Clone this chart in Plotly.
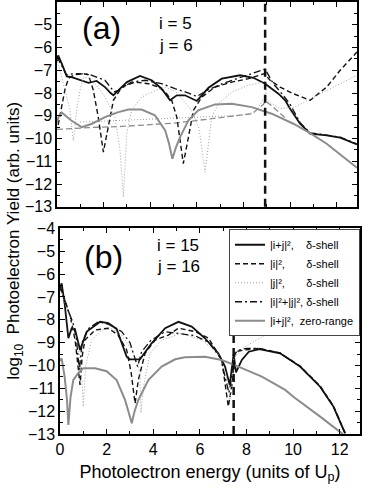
import plotly.graph_objects as go
from plotly.subplots import make_subplots

# panel (a): i = 5, j = 6
a_solid_x = [0.0, 0.05, 0.2, 0.42, 0.63, 1.0, 1.35, 1.7, 2.06, 2.3, 2.42, 2.63, 3.0, 3.56, 4.06, 4.49, 4.85, 5.14, 5.49, 6.0, 6.5, 7.07, 7.85, 8.43, 8.93, 9.5, 9.79, 10.0, 10.43, 10.86, 11.57, 12.15, 12.87]
a_solid_y = [-6.6, -6.35, -6.7, -7.27, -7.3, -7.44, -7.55, -7.47, -7.74, -8.0, -8.1, -7.88, -7.52, -7.25, -7.44, -7.81, -8.32, -8.1, -8.1, -8.35, -7.77, -7.37, -7.22, -7.33, -7.59, -8.03, -8.32, -8.69, -9.35, -9.79, -9.86, -9.96, -10.26]

a_dash_x = [0.05, 0.2, 0.35, 0.5, 0.75, 1.13, 1.35, 1.56, 1.77, 1.99, 2.2, 2.42, 2.78, 3.35, 3.92, 4.35, 4.64, 4.92, 5.14, 5.42, 5.64, 5.85, 6.21, 6.78, 7.5, 8.21, 8.9, 9.14, 9.57, 10.14, 10.86, 11.57, 12.15, 12.72, 12.87]
a_dash_y = [-9.4, -8.6, -7.8, -7.35, -7.2, -7.15, -7.2, -7.88, -9.06, -10.6, -9.5, -8.32, -7.74, -7.52, -7.59, -7.74, -7.95, -8.32, -9.06, -11.1, -9.94, -8.76, -8.18, -7.74, -7.52, -7.37, -7.15, -7.44, -7.74, -8.03, -8.32, -7.74, -7.0, -6.34, -6.2]

a_dot_x = [0.0, 0.34, 0.56, 0.7, 0.85, 1.0, 1.15, 1.4, 1.8, 2.06, 2.49, 2.7, 2.85, 2.99, 3.2, 3.63, 4.2, 4.64, 5.1, 5.78, 6.1, 6.35, 6.64, 6.92, 7.5, 8.21, 8.78, 8.93, 9.0, 9.57, 10.2, 11.0, 11.86, 12.87]
a_dot_y = [-6.5, -7.9, -8.76, -10.1, -8.7, -7.8, -7.3, -7.35, -7.8, -8.18, -9.06, -10.5, -12.57, -9.8, -8.76, -8.18, -7.9, -7.74, -7.95, -8.76, -9.6, -11.48, -9.06, -8.47, -7.96, -7.66, -7.52, -7.5, -8.32, -8.69, -8.62, -8.18, -7.74, -7.22]

a_dashdot_x = [0.0, 0.2, 0.4, 0.77, 1.35, 2.06, 2.45, 2.63, 3.2, 3.78, 4.49, 5.06, 5.5, 6.0, 6.5, 7.2, 8.21, 8.93, 9.28, 9.71, 10.0, 10.43, 10.86, 11.57, 12.15, 12.87]
a_dashdot_y = [-6.4, -6.8, -7.2, -7.15, -7.17, -7.44, -7.95, -7.88, -7.52, -7.44, -7.59, -7.81, -7.95, -8.15, -7.85, -7.55, -7.22, -6.95, -7.59, -8.1, -8.5, -9.3, -9.75, -9.84, -9.94, -10.24]

a_zr_x = [0.0, 0.06, 0.2, 0.6, 1.06, 1.5, 2.06, 2.6, 3.06, 3.63, 4.2, 4.64, 4.8, 4.95, 5.1, 5.28, 5.64, 6.06, 6.78, 7.5, 8.36, 9.21, 10.14, 10.86, 11.57, 12.87]
a_zr_y = [-9.3, -9.06, -8.86, -9.2, -9.5, -9.35, -9.06, -8.85, -8.73, -8.73, -8.98, -9.64, -10.2, -10.89, -10.4, -9.94, -9.2, -8.76, -8.5, -8.47, -8.62, -8.91, -9.35, -9.76, -10.23, -11.28]

# extra zero-range curves of panel (a), not in the legend
a_zr_dash_x = [0.0, 1.35, 2.78, 5.06, 6.06, 7.5, 8.36, 8.86, 8.93, 9.2, 9.43, 9.8]
a_zr_dash_y = [-9.6, -9.52, -9.47, -9.32, -9.2, -9.03, -8.91, -8.5, -8.35, -8.55, -8.75, -9.1]
a_zr_dot_x = [0.99, 2.5, 4.71, 5.75, 7.9, 8.5, 8.83]
a_zr_dot_y = [-9.28, -9.22, -9.13, -9.06, -8.98, -8.85, -8.32]

# panel (b): i = 15, j = 16
b_solid_x = [0.0, 0.07, 0.2, 0.36, 0.5, 0.64, 0.86, 1.15, 1.72, 2.07, 2.43, 2.86, 3.0, 3.43, 3.93, 4.51, 5.08, 5.65, 6.22, 6.79, 7.08, 7.28, 7.45, 7.55, 7.8, 8.1, 8.55, 9.44, 10.3, 11.16, 11.73, 12.23]
b_solid_y = [-6.6, -6.41, -7.3, -8.81, -8.37, -8.4, -9.32, -8.52, -8.09, -8.15, -8.4, -9.62, -9.73, -9.73, -9.03, -8.37, -8.09, -8.3, -8.81, -9.47, -10.05, -10.85, -9.5, -10.3, -9.76, -9.4, -9.29, -9.47, -10.05, -10.93, -11.8, -12.97]

b_dash_x = [0.0, 0.2, 0.45, 0.65, 0.86, 0.95, 1.07, 1.5, 2.07, 2.49, 2.86, 3.05, 3.22, 3.36, 3.65, 4.08, 4.65, 5.08, 5.79, 6.37, 6.94, 7.15, 7.22, 7.37, 7.45, 7.51, 7.94, 8.51, 9.44, 10.3, 11.16, 11.73, 12.23]
b_dash_y = [-6.6, -7.1, -7.9, -8.9, -10.85, -9.6, -8.89, -8.45, -8.37, -8.67, -9.32, -10.3, -11.66, -10.64, -9.47, -8.89, -8.67, -8.37, -8.52, -8.8, -9.76, -11.22, -11.8, -10.9, -9.8, -9.4, -9.32, -9.25, -9.45, -10.03, -10.9, -11.78, -12.95]

b_dot_x = [0.0, 0.2, 0.45, 0.65, 0.85, 0.95, 1.0, 1.1, 1.36, 1.79, 2.21, 2.65, 3.08, 3.3, 3.43, 3.47, 3.58, 3.86, 4.36, 4.94, 5.22, 6.08, 6.79, 7.1, 7.3, 7.45, 7.6, 7.94, 8.8, 9.7, 10.5, 11.5, 12.5]
b_dot_y = [-6.6, -7.2, -7.9, -8.6, -9.6, -10.8, -11.8, -10.0, -8.89, -8.45, -8.4, -8.67, -9.32, -9.9, -10.34, -12.08, -10.93, -9.47, -8.89, -8.67, -8.59, -8.89, -9.47, -10.3, -11.5, -9.7, -9.5, -9.18, -8.67, -8.0, -7.3, -6.5, -5.5]

b_dashdot_x = [0.0, 0.15, 0.35, 0.55, 0.7, 0.83, 0.95, 1.2, 1.64, 2.1, 2.65, 3.0, 3.2, 3.33, 3.5, 3.9, 4.51, 5.1, 5.8, 6.4, 6.9, 7.15, 7.25, 7.35, 7.45, 7.6, 8.0, 8.5, 9.44, 10.3, 11.16, 11.73, 12.23]
b_dashdot_y = [-6.5, -7.0, -7.6, -8.1, -8.8, -10.2, -9.0, -8.4, -8.09, -8.2, -8.52, -9.0, -9.6, -10.05, -9.4, -8.9, -8.52, -8.6, -8.7, -9.0, -9.7, -10.8, -11.2, -10.6, -9.6, -9.35, -9.25, -9.25, -9.46, -10.04, -10.92, -11.79, -12.96]

b_zr_x = [0.0, 0.07, 0.2, 0.3, 0.36, 0.45, 0.57, 0.8, 1.0, 1.5, 2.0, 2.43, 2.79, 2.98, 3.08, 3.2, 3.36, 3.79, 4.36, 4.94, 5.36, 6.22, 6.94, 7.65, 8.66, 9.66, 10.01, 11.16, 12.09, 12.3]
b_zr_y = [-9.8, -9.69, -10.5, -11.5, -12.6, -11.4, -10.64, -10.3, -10.12, -10.12, -10.25, -10.64, -11.51, -12.2, -12.53, -12.0, -11.51, -10.64, -10.05, -9.73, -9.64, -9.62, -9.76, -10.05, -10.49, -11.07, -11.37, -12.24, -12.97, -13.2]

legend_names = [
    "|i+j|²,\u00a0\u00a0\u00a0\u00a0δ-shell",
    "|i|²,\u00a0\u00a0\u00a0\u00a0\u00a0\u00a0\u00a0δ-shell",
    "|j|²,\u00a0\u00a0\u00a0\u00a0\u00a0\u00a0\u00a0δ-shell",
    "|i|²+|j|², δ-shell",
    "|i+j|²,\u00a0\u00a0zero-range",
]

x_max = 12.87
cutoff_a = 8.93
cutoff_b = 7.45

BLACK = "#111111"
GREY = "#8c8c8c"
LIGHT = "#a0a0a0"
FONT = "Liberation Sans, Arial"

fig = make_subplots(rows=2, cols=1)

styles = [
    dict(color=BLACK, width=1.8, dash="solid"),
    dict(color=BLACK, width=1.4, dash="5px,3px"),
    dict(color=LIGHT, width=1.0, dash="1px,2px"),
    dict(color=BLACK, width=1.3, dash="7px,3px,2px,3px"),
    dict(color=GREY, width=2.0, dash="solid"),
]

panel_a = [(a_solid_x, a_solid_y), (a_dash_x, a_dash_y), (a_dot_x, a_dot_y),
           (a_dashdot_x, a_dashdot_y), (a_zr_x, a_zr_y)]
panel_b = [(b_solid_x, b_solid_y), (b_dash_x, b_dash_y), (b_dot_x, b_dot_y),
           (b_dashdot_x, b_dashdot_y), (b_zr_x, b_zr_y)]

# extra grey curves behind panel (a)
fig.add_trace(go.Scatter(x=a_zr_dash_x, y=a_zr_dash_y, mode="lines", showlegend=False,
                         line=dict(color=GREY, width=1.3, dash="6px,3px")), row=1, col=1)
fig.add_trace(go.Scatter(x=a_zr_dot_x, y=a_zr_dot_y, mode="lines", showlegend=False,
                         line=dict(color=LIGHT, width=1.0, dash="1px,2px")), row=1, col=1)

for (xs, ys), st in zip(panel_a, styles):
    fig.add_trace(go.Scatter(x=xs, y=ys, mode="lines", showlegend=False, line=st), row=1, col=1)

for (xs, ys), st, name in zip(panel_b, styles, legend_names):
    fig.add_trace(go.Scatter(x=xs, y=ys, mode="lines", name=name, line=st), row=2, col=1)

axis_common = dict(
    showline=True, linecolor="black", linewidth=1.5, mirror="allticks",
    ticks="inside", ticklen=5, tickwidth=1, tickcolor="black",
    showgrid=False, zeroline=False, automargin=False,
    tickfont=dict(family=FONT, size=16, color="black"),
)

fig.update_xaxes(range=[0, x_max], dtick=2, tick0=0,
                 minor=dict(dtick=1, ticks="inside", ticklen=3, tickcolor="black"),
                 **axis_common)
fig.update_yaxes(range=[-13, -4], dtick=1, tick0=-13,
                 minor=dict(dtick=0.5, ticks="inside", ticklen=3, tickcolor="black"),
                 **axis_common)

fig.update_layout(
    xaxis=dict(domain=[0, 0.99], showticklabels=False),
    yaxis=dict(domain=[0.526, 1.0]),
    xaxis2=dict(domain=[0.0099, 1.0],
                title=dict(text="Photolectron energy (units of U<sub>p</sub>)",
                           font=dict(family=FONT, size=18, color="black"),
                           standoff=8)),
    yaxis2=dict(domain=[0.0, 0.476]),
)

# threshold lines
for xref, yref, xv in [("x", "y domain", cutoff_a), ("x2", "y2 domain", cutoff_b)]:
    fig.add_shape(type="line", xref=xref, yref=yref, x0=xv, x1=xv, y0=0, y1=1,
                  line=dict(color=BLACK, width=2.5, dash="8px,5px"))

label_font = dict(family=FONT, color="black")
fig.add_annotation(x=1.9, y=-5.16, xref="x", yref="y", text="(a)", showarrow=False,
                   font=dict(size=32, **label_font))
fig.add_annotation(x=1.85, y=-5.26, xref="x2", yref="y2", text="(b)", showarrow=False,
                   font=dict(size=32, **label_font))
fig.add_annotation(x=4.29, y=-4.94, xref="x", yref="y", text="i = 5", showarrow=False,
                   xanchor="left", font=dict(size=17, **label_font))
fig.add_annotation(x=4.29, y=-5.9, xref="x", yref="y", text="j = 6", showarrow=False,
                   xanchor="left", font=dict(size=17, **label_font))
fig.add_annotation(x=4.08, y=-4.73, xref="x2", yref="y2", text="i = 15", showarrow=False,
                   xanchor="left", font=dict(size=17, **label_font))
fig.add_annotation(x=4.08, y=-5.69, xref="x2", yref="y2", text="j = 16", showarrow=False,
                   xanchor="left", font=dict(size=17, **label_font))

# shared y title
fig.add_annotation(x=-0.139, y=0.447, xref="paper", yref="paper", textangle=-90,
                   xanchor="center", yanchor="middle",
                   text="log<sub>10</sub>  Photoelectron Yield (arb. units)", showarrow=False,
                   font=dict(size=17, **label_font))

fig.update_layout(
    width=382, height=494,
    margin=dict(l=57, r=22, t=2, b=60),
    paper_bgcolor="white", plot_bgcolor="white",
    legend=dict(x=1.0, y=0.474, xanchor="right", yanchor="top",
                bgcolor="white", bordercolor="#444444", borderwidth=1,
                font=dict(family=FONT, size=11, color="black"),
                tracegroupgap=0, itemwidth=30),
)

# the page body has a default margin; drop it so the figure sits at the window corner
fig.write_html("out.html", config={"displayModeBar": False},
               post_script="document.body.style.margin='0';")
